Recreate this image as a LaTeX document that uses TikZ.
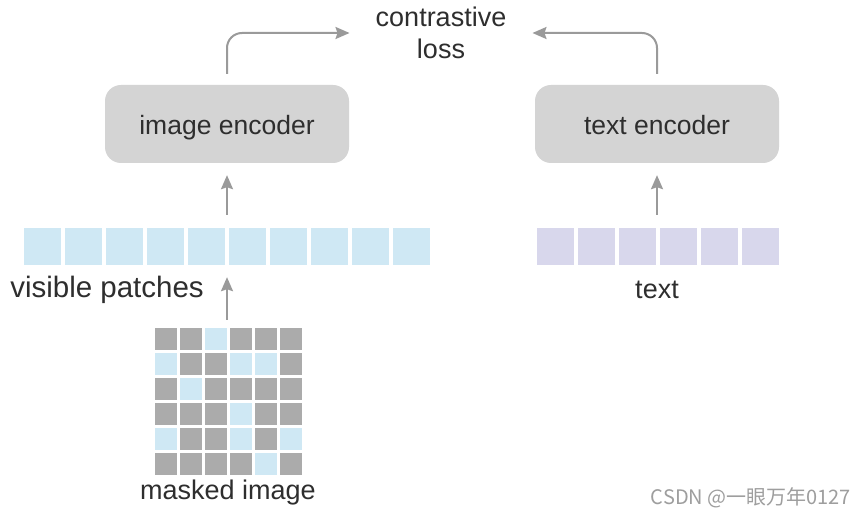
\documentclass[tikz,border=0pt]{standalone}
\usepackage{fontspec}
\setmainfont{Liberation Sans}
\newfontfamily\cjkfont{Noto Sans CJK SC}
\usepackage{tikz}
\usetikzlibrary{arrows.meta, positioning}
\definecolor{encgray}{HTML}{D4D4D4}
\definecolor{maskgray}{HTML}{ABABAB}
\definecolor{patchblue}{HTML}{CFE8F4}
\definecolor{tokenlav}{HTML}{D8D7EC}
\definecolor{arrowgray}{HTML}{9A9A9A}
\definecolor{labelgray}{HTML}{2E2E2E}
\tikzstyle{encoder} = [rectangle, rounded corners=16pt, minimum width=244pt, minimum height=78pt, fill=encgray, text=labelgray, text height=25pt, text depth=3pt, font=\fontsize{26.5}{30}\selectfont]
\tikzstyle{patch} = [rectangle, minimum size=37pt, inner sep=0pt, fill=patchblue]
\tikzstyle{token} = [patch, fill=tokenlav]
\tikzstyle{cellg} = [rectangle, minimum size=22pt, inner sep=0pt, fill=maskgray]
\tikzstyle{cellb} = [cellg, fill=patchblue]
\tikzstyle{label} = [text=labelgray, inner sep=0pt, font=\fontsize{27}{32}\selectfont]
\tikzstyle{arrow} = [line width=2pt, draw=arrowgray, -{Stealth[length=14pt, width=12pt, inset=2pt]}]

\begin{document}
\begin{tikzpicture}[x=1pt, y=-1pt]
  \useasboundingbox[fill=white] (0,0) rectangle (867,518);

  \node[encoder] (imgenc) at (227,124) {image encoder};
  \node[encoder] (txtenc) at (657,124) {text encoder};
  \node[label, align=center, inner xsep=26pt] (loss) at (441,33) {contrastive\\loss};

  % visible patches and text tokens
  \foreach \k in {1,...,10}
    \node[patch] (p\k) at ({42.5+41*(\k-1)},246.5) {};
  \foreach \k in {1,...,6}
    \node[token] (t\k) at ({555.5+41*(\k-1)},246.5) {};
  \node[label, font=\fontsize{29.5}{34}\selectfont] (vislabel) at (107,290) {visible patches};
  \node[label] (txtlabel) at (657,290) {text};

  % masked image grid
  \foreach \row [count=\r] in {{g,g,b,g,g,g},{b,g,g,b,b,g},{g,b,g,g,g,g},{g,g,g,b,g,g},{b,g,g,b,g,b},{g,g,g,g,b,g}}
    \foreach \v [count=\c] in \row
      \node[cell\v] (m\r-\c) at ({166+25*(\c-1)},{339+25*(\r-1)}) {};
  \node[label] (masklabel) at (228,493) {masked image};

  \draw[arrow, shorten <=8pt, shorten >=12pt] (imgenc.south |- m1-1.north) -- (imgenc.south |- p1.south);
  \draw[arrow, shorten <=13pt, shorten >=12pt] (imgenc.south |- p1.north) -- (imgenc.south);
  \draw[arrow, shorten <=13pt, shorten >=12pt] (txtenc.south |- t1.north) -- (txtenc.south);
  \draw[arrow, rounded corners=15pt, shorten <=11pt] (imgenc.north) |- (loss.west);
  \draw[arrow, rounded corners=15pt, shorten <=11pt] (txtenc.north) |- (loss.east);

  \node[text=black!38, inner sep=0pt, font=\cjkfont\fontsize{20}{24}\selectfont] (mark) at (751,498) {CSDN @一眼万年0127};
\end{tikzpicture}
\end{document}
